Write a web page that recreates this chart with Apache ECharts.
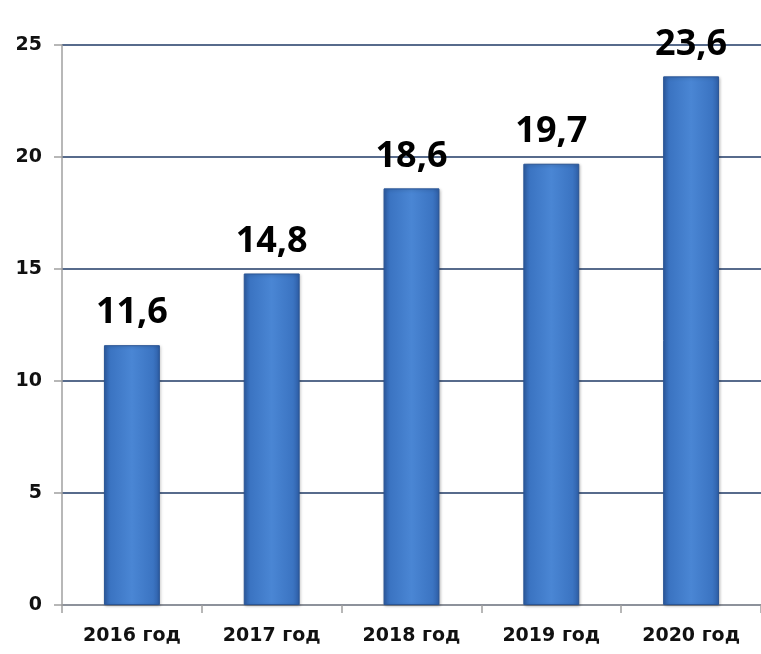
<!DOCTYPE html>
<html><head><meta charset="utf-8">
<script src="https://cdn.jsdelivr.net/npm/echarts@6/dist/echarts.min.js"></script>
<style>html,body{margin:0;padding:0;background:#fff}#c{width:761px;height:654px}</style>
</head><body><div id="c"></div>
<script>
var categories = ["2016 год", "2017 год", "2018 год", "2019 год", "2020 год"];
var values = [11.6, 14.8, 18.6, 19.7, 23.6];
var yTicks = [0, 5, 10, 15, 20, 25];

var chart = echarts.init(document.getElementById('c'));
var barColor = new echarts.graphic.LinearGradient(0, 0, 1, 0, [
  {offset: 0, color: '#2E5EA6'},
  {offset: 0.12, color: '#3B74C2'},
  {offset: 0.5, color: '#4A86D4'},
  {offset: 0.88, color: '#3B74C2'},
  {offset: 1, color: '#2E5EA6'}
]);
chart.setOption({
  animation: false,
  grid: {left: 62, right: -4, top: 45, bottom: 49},
  xAxis: {
    type: 'category', data: categories,
    axisLine: {lineStyle: {color: '#A0A0A0', width: 1.5}},
    axisTick: {show: true, length: 8, lineStyle: {color: '#A0A0A0', width: 1.5}},
    axisLabel: {color: '#111', fontWeight: 'bold', fontSize: 19, fontFamily: 'DejaVu Sans', margin: 22}
  },
  yAxis: {
    type: 'value', min: yTicks[0], max: yTicks[yTicks.length - 1], interval: 5,
    axisLine: {show: true, lineStyle: {color: '#A0A0A0', width: 1.5}},
    axisTick: {show: true, length: 8, lineStyle: {color: '#A0A0A0', width: 1.5}},
    splitLine: {lineStyle: {color: '#1F3A66', width: 1.5}},
    axisLabel: {color: '#111', fontWeight: 'bold', fontSize: 19, fontFamily: 'DejaVu Sans', margin: 20,
      formatter: function (v) { return yTicks.indexOf(v) >= 0 ? String(v) : ''; }}
  },
  series: [{
    type: 'bar', data: values, barWidth: '40%',
    itemStyle: {color: barColor, borderColor: '#2A5595', borderWidth: 1,
      shadowColor: 'rgba(0,0,0,0.25)', shadowBlur: 3, shadowOffsetX: 1, shadowOffsetY: 1},
    label: {show: true, position: 'top', distance: 14, color: '#000', fontWeight: 'bold',
      fontSize: 36, fontFamily: 'Open Sans',
      formatter: function (p) { return String(p.value).replace('.', ','); }}
  }]
});
</script></body></html>
